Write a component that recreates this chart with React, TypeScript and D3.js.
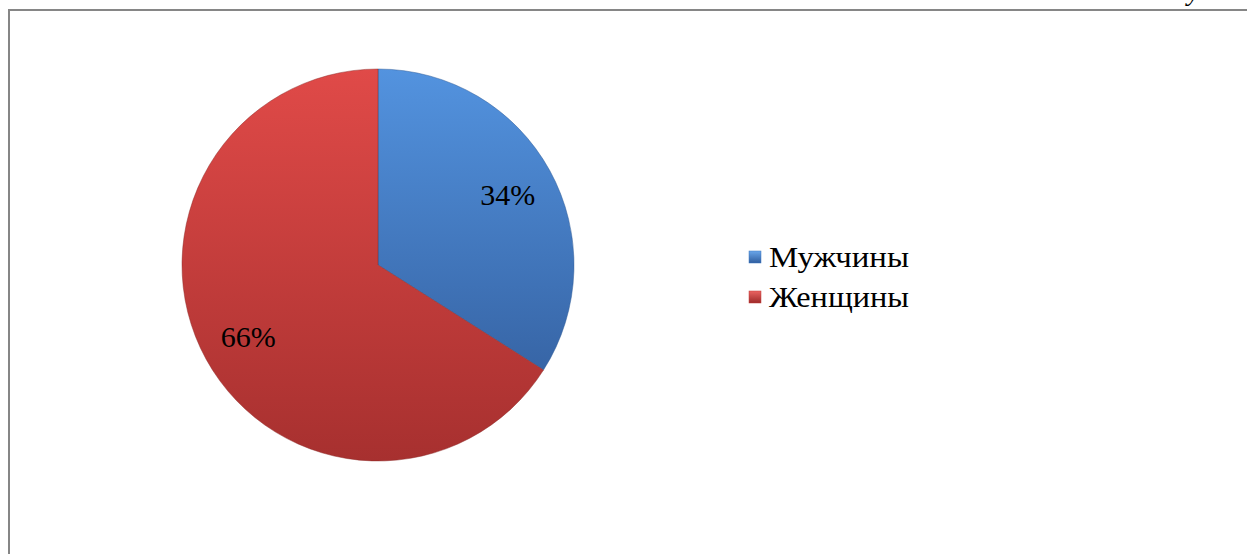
import React from 'react';
import * as d3 from 'd3';

const categories = ['Мужчины', 'Женщины'];
const shares = [34, 66];
const labels = ['34%', '66%'];
const caption = 'Рисунок 1';

const W = 1247;
const H = 554;
const cx = 378;
const cy = 265;
const R = 196;

const fills = ['url(#gBlue)', 'url(#gRed)'];
const legendFills = ['#3f77c0', '#c23c3a'];
const serif = "'Liberation Serif', 'Times New Roman', 'DejaVu Serif', serif";

export default function App() {
  const pie = d3.pie<number>().sort(null).value(d => d);
  const arcs = pie(shares);
  const arc = d3.arc<d3.PieArcDatum<number>>().innerRadius(0).outerRadius(R);
  const labelArc = d3.arc<d3.PieArcDatum<number>>().innerRadius(R * 0.755).outerRadius(R * 0.755);
  const legendY = d3.scalePoint<string>().domain(categories).range([257, 297]);

  return (
    <svg width={W} height={H} style={{ position: 'fixed', left: 0, top: 0, background: '#fff', fontFamily: serif }}>
      <defs>
        <linearGradient id="gBlue" x1="0" y1="0" x2="0" y2="1">
          <stop offset="0" stopColor="#5393df" />
          <stop offset="1" stopColor="#3765a6" />
        </linearGradient>
        <linearGradient id="gRed" x1="0" y1="0" x2="0" y2="1">
          <stop offset="0" stopColor="#e04a48" />
          <stop offset="1" stopColor="#a7302f" />
        </linearGradient>
        <linearGradient id="lBlue" x1="0" y1="0" x2="0" y2="1">
          <stop offset="0" stopColor="#6aa6ea" />
          <stop offset="1" stopColor="#2f5d9e" />
        </linearGradient>
        <linearGradient id="lRed" x1="0" y1="0" x2="0" y2="1">
          <stop offset="0" stopColor="#ea6462" />
          <stop offset="1" stopColor="#9d2a29" />
        </linearGradient>
      </defs>
      {/* caption sits mostly above the page edge, only its lower part shows */}
      <text x={1262} y={0} textAnchor="end" fontStyle="italic" fontSize={28} fill="#000" style={{ fontFamily: serif }}>{caption}</text>
      <rect x={9} y={10} width={W + 20} height={H + 20} fill="none" stroke="#868686" strokeWidth={2} />
      <g transform={`translate(${cx},${cy})`}>
        {arcs.map((a, i) => (
          <path key={i} d={arc(a) || ''} fill={fills[i]} stroke={i === 0 ? '#2f5a96' : '#8e2a29'} strokeWidth={0.8} strokeOpacity={0.6} />
        ))}
        {arcs.map((a, i) => {
          const [x, y] = labelArc.centroid(a);
          return (
            <text key={i} x={x} y={y + 11} textAnchor="middle" fontSize={30} fill="#000" style={{ fontFamily: serif }}>{labels[i]}</text>
          );
        })}
      </g>
      {categories.map((c, i) => (
        <g key={c} transform={`translate(749,${legendY(c)})`}>
          <rect x={0} y={-6} width={12} height={12} fill={i === 0 ? 'url(#lBlue)' : 'url(#lRed)'} stroke={legendFills[i]} strokeWidth={0.5} />
          <text x={20} y={10} fontSize={30} textLength={140} lengthAdjust="spacingAndGlyphs" fill="#000" style={{ fontFamily: serif }}>{c}</text>
        </g>
      ))}
    </svg>
  );
}
